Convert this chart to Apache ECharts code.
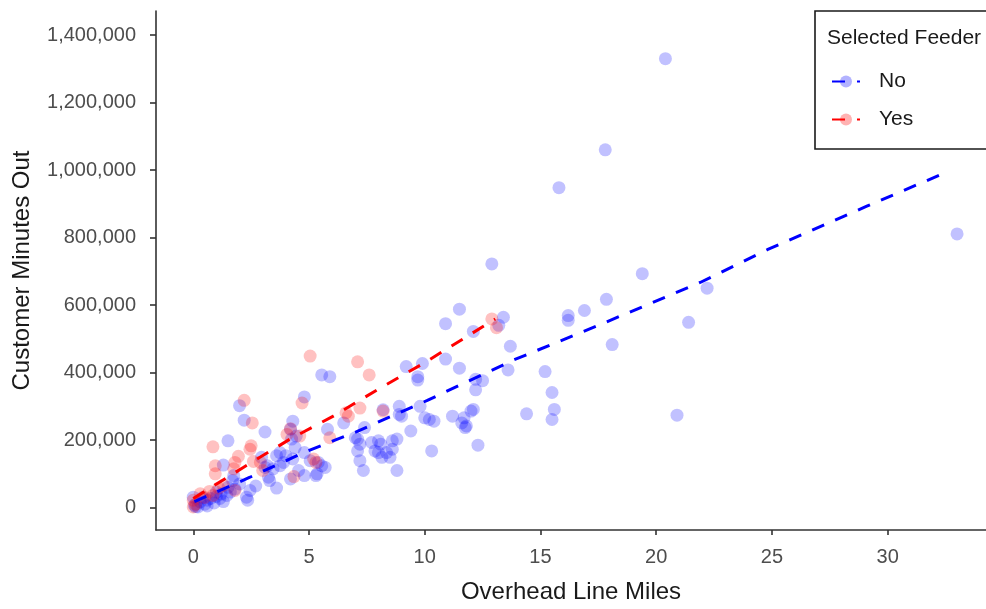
<!DOCTYPE html>
<html>
<head>
<meta charset="utf-8">
<script src="https://cdn.jsdelivr.net/npm/echarts@6/dist/echarts.min.js"></script>
<style>
html,body{margin:0;padding:0;background:#fff;}
#chart{width:986px;height:609px;}
</style>
</head>
<body>
<div id="chart"></div>
<script>
// Overhead line miles vs customer minutes out
const xTicks = [0, 5, 10, 15, 20, 25, 30];
const yTicks = [0, 200000, 400000, 600000, 800000, 1000000, 1200000, 1400000];

const noPoints = [
  [20.4,1330000],[17.8,1060000],[15.8,948000],[33.0,811000],[12.9,722000],[19.4,693000],
  [22.2,650000],[17.85,617000],[16.9,584000],[16.2,569000],[16.2,555000],[21.4,549000],
  [18.1,483000],[13.7,478000],[13.4,564000],[13.2,540000],[11.5,588000],[10.9,545000],
  [12.1,522000],[13.6,408000],[15.2,403000],[15.5,341000],[15.6,291000],[15.5,261000],
  [14.4,278000],[20.9,274000],
  [10.9,440000],[11.5,413000],[9.2,418000],[9.9,427000],[9.7,388000],[9.7,378000],
  [12.2,380000],[12.5,376000],[12.2,349000],[12.1,291000],[11.7,266000],[11.6,251000],
  [11.75,237000],[11.2,271000],[12.3,185000],[10.3,168000],[10.2,261000],[10.0,266000],
  [10.4,256000],[9.4,227000],[8.9,300000],[9.0,271000],[9.8,300000],[8.2,290000],
  [8.9,276000],[8.8,110000],[8.6,198000],[8.6,173000],[8.5,149000],[8.0,198000],
  [8.1,188000],[7.85,168000],[8.0,163000],[7.7,193000],[8.15,149000],[8.35,163000],
  [8.8,203000],[7.1,203000],[7.2,188000],[7.1,168000],[7.2,139000],[7.35,110000],
  [7.4,237000],[7.0,207000],[6.5,251000],[5.55,393000],[5.9,388000],[5.8,232000],
  [12.0,286000],[11.8,242000],
  [4.8,328000],[2.0,302000],[2.2,259000],[3.1,224000],[1.5,198000],[4.3,256000],
  [4.2,232000],[4.25,203000],[4.4,178000],[4.45,212000],[4.8,163000],[4.3,144000],
  [4.0,154000],[3.9,134000],[3.75,163000],[3.6,154000],[3.75,124000],[3.45,115000],
  [3.1,119000],[2.95,149000],[3.2,124000],[3.3,80000],[3.25,90000],[3.6,58000],
  [2.7,64000],[2.45,51000],[2.3,31000],[2.35,22000],[1.3,126000],[1.75,95000],
  [4.2,85000],[4.55,110000],[4.8,95000],[5.3,95000],[5.05,139000],[5.4,134000],
  [5.55,124000],[5.7,119000],[5.35,100000],
  [0.05,7000],[0.3,17000],[0.6,22000],[1.15,27000],[1.45,36000],[1.0,46000],
  [1.6,46000],[0.75,27000],[0.0,31000],[0.2,2000],[0.5,10000],[0.9,14000],
  [1.3,18000],[1.8,55000],[1.5,60000],[1.2,40000],[0.4,30000],[2.0,70000],
  [1.7,80000],[0.1,3000],[0.6,5000],[1.0,33000]
];

const yesPoints = [
  [12.9,559000],[13.1,533000],[5.05,449000],[7.1,432000],[7.6,393000],[4.7,310000],
  [2.2,318000],[2.55,251000],[6.6,281000],[6.7,271000],[7.2,295000],[8.2,286000],
  [5.9,207000],[4.05,217000],[4.2,234000],[4.6,212000],[0.85,180000],[2.5,183000],
  [2.45,173000],[1.95,152000],[1.8,134000],[0.95,124000],[0.95,100000],[1.75,115000],
  [2.6,137000],[2.9,134000],[3.0,110000],[5.2,144000],[5.3,134000],[4.35,92000],
  [0.3,41000],[0.0,2000],[0.0,22000],[0.85,36000],[1.3,66000],[1.8,51000],
  [0.1,10000],[0.5,30000],[0.7,48000],[1.1,58000]
];

const noTrend = [
  [0.05,18000],[2.45,90000],[4.76,163000],[7.06,225000],[10.09,317000],[13.83,437000],
  [17.5,540000],[21.9,667000],[24.8,764000],[29.1,893000],[32.55,994000]
];
const yesTrend = [
  [0.0,27000],[2.16,119000],[4.18,203000],[6.05,271000],[8.07,354000],[9.94,427000],
  [12.6,540000],[13.05,559000]
];

const FONT = '"Liberation Sans", Arial, sans-serif';
const chart = echarts.init(document.getElementById('chart'), null, {renderer: 'canvas'});

const axisLine = {show: true, onZero: false, lineStyle: {color: '#333333', width: 1.6}};
const dash = [13, 12];

chart.setOption({
  animation: false,
  backgroundColor: '#ffffff',
  textStyle: {fontFamily: FONT},
  title: {
    text: 'Selected Feeder',
    left: 827, top: 27, padding: 0,
    textStyle: {fontFamily: FONT, fontSize: 21, fontWeight: 'normal', color: '#1a1a1a', lineHeight: 22}
  },
  legend: {
    data: [
      {name: 'No', itemStyle: {color: 'rgba(0,0,255,0.3)'}},
      {name: 'Yes', itemStyle: {color: 'rgba(255,0,0,0.3)'}}
    ],
    orient: 'vertical',
    left: 815, top: 11,
    padding: [60, 160, 19, 16],
    itemWidth: 28, itemHeight: 15, itemGap: 17,
    borderColor: '#1a1a1a', borderWidth: 1.6,
    backgroundColor: '#ffffff',
    selectedMode: false,
    textStyle: {fontFamily: FONT, fontSize: 21, color: '#1a1a1a', lineHeight: 20, padding: [0, 0, 0, 14]}
  },
  grid: {left: 156, right: 0, top: 11, bottom: 74, containLabel: false},
  xAxis: {
    type: 'value', min: -1.61, max: 34.25,
    name: 'Overhead Line Miles', nameLocation: 'middle', nameGap: 50,
    nameTextStyle: {fontFamily: FONT, fontSize: 24, color: '#1a1a1a'},
    axisLine: axisLine,
    axisTick: {show: true, length: 5, customValues: xTicks, lineStyle: {color: '#333333', width: 1.6}},
    axisLabel: {customValues: xTicks, fontSize: 20, color: '#4d4d4d', margin: 17, fontFamily: FONT},
    splitLine: {show: false}
  },
  yAxis: {
    type: 'value', min: -66300, max: 1471300,
    name: 'Customer Minutes Out', nameLocation: 'middle', nameGap: 122,
    nameTextStyle: {fontFamily: FONT, fontSize: 24, color: '#1a1a1a'},
    axisLine: axisLine,
    axisTick: {show: true, length: 6, customValues: yTicks, lineStyle: {color: '#333333', width: 1.6}},
    axisLabel: {customValues: yTicks, fontSize: 20, color: '#4d4d4d', margin: 20, fontFamily: FONT,
      formatter: v => Number(v).toLocaleString('en-US')},
    splitLine: {show: false}
  },
  series: [
    {name: 'No', type: 'line', data: noTrend, z: 5, showSymbol: false, symbol: 'circle', symbolSize: 12,
     itemStyle: {color: 'rgba(0,0,255,0.3)'},
     lineStyle: {color: '#0000ff', width: 3, type: dash}, emphasis: {disabled: true}, silent: true},
    {name: 'Yes', type: 'line', data: yesTrend, z: 5, showSymbol: false, symbol: 'circle', symbolSize: 12,
     itemStyle: {color: 'rgba(255,0,0,0.3)'},
     lineStyle: {color: '#ff0000', width: 3, type: dash}, emphasis: {disabled: true}, silent: true},
    {name: 'No', type: 'scatter', data: noPoints, z: 2, symbolSize: 13,
     itemStyle: {color: 'rgba(0,0,255,0.3)'}, emphasis: {disabled: true}, silent: true},
    {name: 'Yes', type: 'scatter', data: yesPoints, z: 3, symbolSize: 13,
     itemStyle: {color: 'rgba(255,0,0,0.3)'}, emphasis: {disabled: true}, silent: true}
  ]
});
</script>
</body>
</html>
